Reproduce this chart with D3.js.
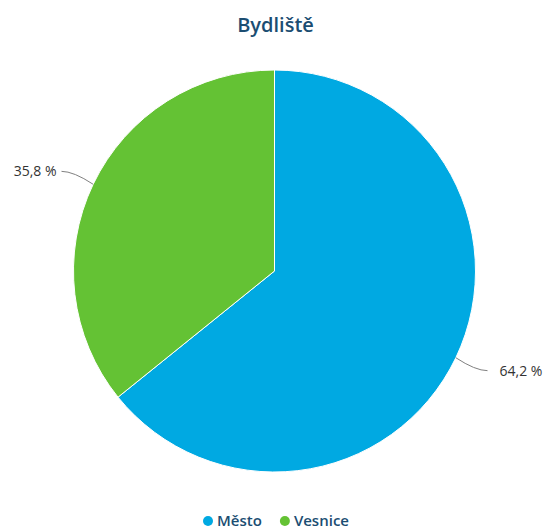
<!DOCTYPE html>
<html>
<head>
<meta charset="utf-8">
<script src="https://cdn.jsdelivr.net/npm/d3@7"></script>
<style>
  html, body { margin: 0; padding: 0; background: #fff; }
  svg { display: block; }
</style>
</head>
<body>
<svg id="chart" width="549" height="529"></svg>
<script>
const title = "Bydliště";
const categories = ["Město", "Vesnice"];
const values = [64.2, 35.8];
const labels = ["64,2 %", "35,8 %"];
const colors = ["#00a9e2", "#64c234"];

const W = 549, H = 529;
const cx = 274.5, cy = 271, R = 201, dist = 30;
const svg = d3.select("#chart");

svg.append("text")
  .attr("x", cx + 1).attr("y", 32)
  .attr("text-anchor", "middle")
  .attr("font-family", "'Open Sans', sans-serif")
  .attr("font-size", 20)
  .attr("font-weight", 600)
  .attr("fill", "#1b4d72")
  .text(title);

const pie = d3.pie().sort(null).value(d => d)(values);
const arc = d3.arc().innerRadius(0).outerRadius(R);
const g = svg.append("g").attr("transform", `translate(${cx},${cy})`);

g.selectAll("path.slice").data(pie).join("path")
  .attr("class", "slice")
  .attr("d", arc)
  .attr("fill", (d, i) => colors[i])
  .attr("stroke", "#ffffff")
  .attr("stroke-width", 1);

// data labels with connectors
pie.forEach((d, i) => {
  const a = (d.startAngle + d.endAngle) / 2;
  const sx = R * Math.sin(a), sy = -R * Math.cos(a);
  const right = sx > 0;
  const ly = -(R + dist) * Math.cos(a);
  const ex = right ? R + 12 : -(R + 12);
  const ey = ly;
  const ctrlX = right ? ex - 12 : ex + 12;
  g.append("path")
    .attr("d", `M${sx},${sy} Q${ctrlX},${ey} ${ex},${ey}`)
    .attr("fill", "none")
    .attr("stroke", "#808080")
    .attr("stroke-width", 1);
  g.append("text")
    .attr("x", right ? ex + 12 : ex - 5)
    .attr("y", ey)
    .attr("dy", "0.35em")
    .attr("text-anchor", right ? "start" : "end")
    .attr("font-family", "'Open Sans', sans-serif")
    .attr("font-size", 14)
    .attr("fill", "#333")
    .text(labels[i]);
});

// legend
const lg = svg.append("g");
const items = [];
categories.forEach((c, i) => {
  const item = lg.append("g");
  item.append("circle").attr("cx", 5).attr("cy", 0).attr("r", 5).attr("fill", colors[i]);
  const t = item.append("text")
    .attr("x", 14).attr("y", 0).attr("dy", "0.35em")
    .attr("font-family", "'Open Sans', sans-serif")
    .attr("font-size", 15)
    .attr("font-weight", 600)
    .attr("fill", "#1b4d72")
    .text(c);
  items.push({ item, w: 14 + t.node().getComputedTextLength() });
});
let total = items.reduce((s, o) => s + o.w, 0) + 18 * (items.length - 1);
let sx0 = 276 - total / 2;
items.forEach(o => {
  o.item.attr("transform", `translate(${sx0},521)`);
  sx0 += o.w + 18;
});
</script>
</body>
</html>
